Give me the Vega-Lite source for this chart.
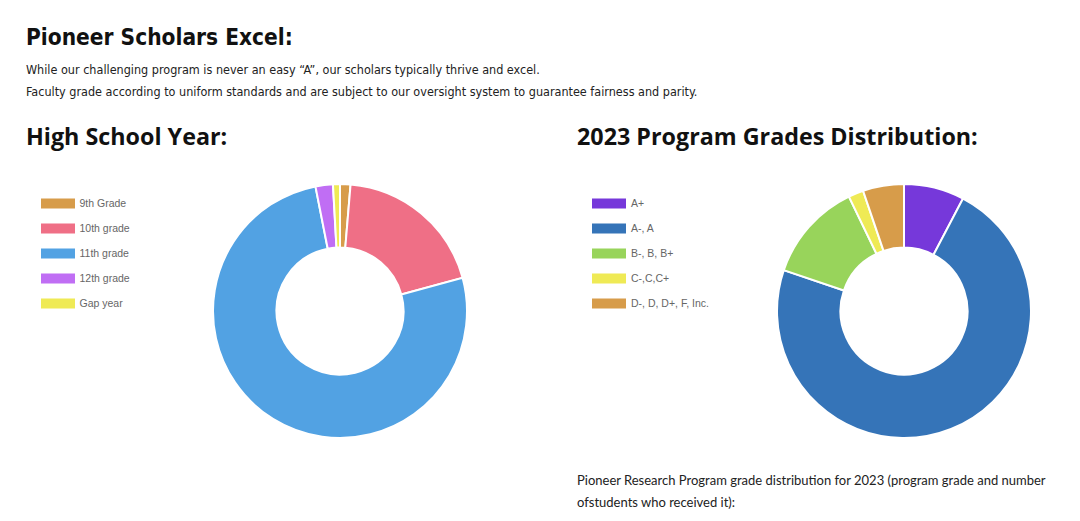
{
  "$schema": "https://vega.github.io/schema/vega-lite/v6.json",
  "background": "white",
  "padding": {"left": 26, "top": 26, "right": 0, "bottom": 0},
  "title": {
    "text": "Pioneer Scholars Excel:",
    "subtitle": [
      "While our challenging program is never an easy “A”, our scholars typically thrive and excel.",
      "Faculty grade according to uniform standards and are subject to our oversight system to guarantee fairness and parity."
    ],
    "anchor": "start",
    "frame": "bounds",
    "font": "DejaVu Sans Condensed",
    "fontSize": 22.5,
    "fontWeight": "bold",
    "color": "#111111",
    "subtitleFont": "DejaVu Sans Condensed",
    "subtitleFontSize": 12.5,
    "subtitleColor": "#222222",
    "subtitleLineHeight": 22,
    "subtitlePadding": 15,
    "offset": 27
  },
  "spacing": 106,
  "resolve": {"scale": {"color": "independent"}, "legend": {"color": "independent"}},
  "config": {"view": {"stroke": null}},
  "hconcat": [
    {
      "title": {"text": "High School Year:", "anchor": "start", "frame": "bounds", "font": "Open Sans", "fontSize": 23.3, "fontWeight": "bold", "color": "#111111", "offset": 30},
      "width": 254,
      "height": 254,
      "data": {"values": [
        {"year": "9th Grade", "students": 3, "rank": 1},
        {"year": "10th grade", "students": 44, "rank": 2},
        {"year": "11th grade", "students": 172, "rank": 3},
        {"year": "12th grade", "students": 5, "rank": 4},
        {"year": "Gap year", "students": 2, "rank": 5}
      ]},
      "mark": {"type": "arc", "innerRadius": 63.5, "stroke": "white", "strokeWidth": 2},
      "encoding": {
        "theta": {"field": "students", "type": "quantitative", "stack": true},
        "order": {"field": "rank", "type": "quantitative"},
        "color": {
          "field": "year", "type": "nominal",
          "scale": {"domain": ["9th Grade", "10th grade", "11th grade", "12th grade", "Gap year"], "range": ["#d79c4a", "#ef6f86", "#52a2e3", "#c06ef4", "#efea55"]},
          "legend": {"title": null, "orient": "none", "legendX": -187, "legendY": -1, "padding": 15, "symbolType": "M-1,-0.294H1V0.294H-1Z", "symbolSize": 1156, "symbolStrokeWidth": 0, "symbolOpacity": 1, "clipHeight": 11, "rowPadding": 14, "labelFont": "Liberation Sans", "labelFontSize": 10.5, "labelColor": "#666666", "labelOffset": 4.5}
        }
      }
    },
    {
      "title": {"text": "2023 Program Grades Distribution:", "anchor": "start", "frame": "bounds", "font": "Open Sans", "fontSize": 23.3, "fontWeight": "bold", "color": "#111111", "offset": 30},
      "vconcat": [
        {
          "title": {"text": ["Pioneer Research Program grade distribution for 2023 (program grade and number", "ofstudents who received it):"], "orient": "bottom", "anchor": "start", "frame": "bounds", "dx": -196, "font": "Lato", "fontSize": 13, "fontWeight": "normal", "color": "#222222", "lineHeight": 22, "offset": 33},
          "width": 254,
          "height": 254,
          "data": {"values": [
            {"grade": "A+", "students": 28, "rank": 1},
            {"grade": "A-, A", "students": 264, "rank": 2},
            {"grade": "B-, B, B+", "students": 46, "rank": 3},
            {"grade": "C-,C,C+", "students": 7, "rank": 4},
            {"grade": "D-, D, D+, F, Inc.", "students": 19, "rank": 5}
          ]},
          "mark": {"type": "arc", "innerRadius": 63.5, "stroke": "white", "strokeWidth": 2},
          "encoding": {
            "theta": {"field": "students", "type": "quantitative", "stack": true},
            "order": {"field": "rank", "type": "quantitative"},
            "color": {
              "field": "grade", "type": "nominal",
              "scale": {"domain": ["A+", "A-, A", "B-, B, B+", "C-,C,C+", "D-, D, D+, F, Inc."], "range": ["#7638da", "#3574b8", "#98d45b", "#efea55", "#d79c4a"]},
              "legend": {"title": null, "orient": "none", "legendX": -200, "legendY": -1, "padding": 15, "symbolType": "M-1,-0.294H1V0.294H-1Z", "symbolSize": 1156, "symbolStrokeWidth": 0, "symbolOpacity": 1, "clipHeight": 11, "rowPadding": 14, "labelFont": "Liberation Sans", "labelFontSize": 10.5, "labelColor": "#666666", "labelOffset": 5}
            }
          }
        }
      ]
    }
  ]
}
